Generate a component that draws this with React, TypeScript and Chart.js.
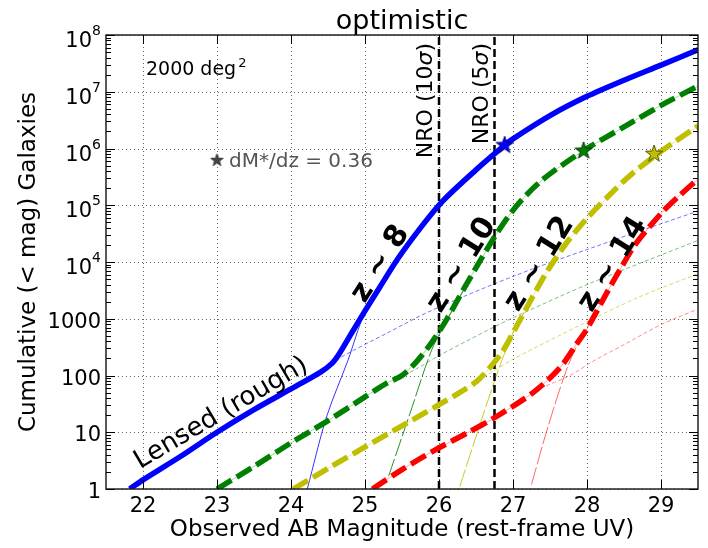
import React, { useEffect, useRef } from "react";
import { Chart, registerables } from "chart.js";
Chart.register(...registerables);

const FONT = "'DejaVu Sans', sans-serif";

// ---- axes ----
const xMin = 21.5;
const xMax = 29.5;
const yMin = 1;
const yMax = 1e8;
const xTickValues = [22, 23, 24, 25, 26, 27, 28, 29];
const xTickLabels = ["22", "23", "24", "25", "26", "27", "28", "29"];
const yTickValues = [1, 10, 100, 1000, 1e4, 1e5, 1e6, 1e7, 1e8];
const yTickBases = ["1", "10", "100", "1000", "10", "10", "10", "10", "10"];
const yTickExps = ["", "", "", "", "4", "5", "6", "7", "8"];

// ---- thick curves: total (lensed + unlensed) cumulative counts ----
const z8Mag = [21.82, 22, 22.5, 23, 23.5, 24, 24.4, 24.55, 24.65, 24.8, 25.0, 25.2, 25.45, 25.75, 26.04, 26.5, 26.88, 27.0, 27.5, 28.0, 28.5, 29.0, 29.5];
const z8Count = [1, 1.45, 3.7, 10, 25, 58, 115, 162, 240, 510, 1380, 3600, 11750, 40000, 115000, 420000, 1.12e6, 1.48e6, 3.8e6, 8.3e6, 1.6e7, 2.95e7, 5.5e7];

const z10Mag = [23.0, 23.5, 24, 24.5, 25, 25.3, 25.5, 25.7, 25.9, 26.1, 26.35, 26.75, 27.05, 27.4, 27.95, 28.5, 29.0, 29.5];
const z10Count = [1, 2.5, 6.5, 16, 42, 74, 100, 178, 380, 955, 3630, 27500, 98000, 282000, 912000, 2.4e6, 5.75e6, 1.26e7];

const z12Mag = [24.03, 24.5, 25, 25.5, 25.95, 26.3, 26.53, 26.84, 27.02, 27.25, 27.46, 27.72, 28.0, 28.35, 28.6, 28.93, 29.2, 29.5];
const z12Count = [1, 2.3, 5.5, 13, 28, 52, 83, 245, 630, 2240, 6800, 21400, 59000, 174000, 350000, 760000, 1.35e6, 2.5e6];

const z14Mag = [25.1, 25.5, 25.95, 26.4, 26.75, 27.28, 27.64, 27.86, 27.99, 28.26, 28.44, 28.66, 29.02, 29.25, 29.5];
const z14Count = [1, 2.2, 4.9, 10, 18, 51, 140, 360, 630, 2750, 7100, 21000, 76000, 148000, 290000];

// ---- thin short-dashed: lensed component ----
const z8LensMag = [24.4, 24.65, 25.3, 25.9, 27.05, 28.35, 29.5];
const z8LensCount = [112, 200, 560, 1400, 5900, 24000, 79000];
const z10LensMag = [25.45, 25.7, 26.0, 26.66, 27.02, 28.04, 29.5];
const z10LensCount = [89, 132, 224, 630, 1070, 4200, 24000];
const z12LensMag = [26.45, 26.7, 27.02, 27.9, 28.7, 29.5];
const z12LensCount = [71, 112, 200, 760, 2400, 6200];
const z14LensMag = [27.45, 27.77, 28.08, 28.5, 29.01, 29.5];
const z14LensCount = [66, 100, 178, 350, 800, 1480];

// ---- thin long-dashed: unlensed component ----
const z8UnMag = [24.22, 24.48, 24.77, 24.99, 25.2];
const z8UnCount = [1, 18.6, 186, 1230, 3500];
const z10UnMag = [25.32, 25.6, 25.9, 26.1, 26.35];
const z10UnCount = [1.7, 20, 280, 900, 3500];
const z12UnMag = [26.28, 26.53, 26.8, 27.0, 27.25];
const z12UnCount = [1.1, 11, 123, 560, 2200];
const z14UnMag = [27.25, 27.46, 27.72, 27.9, 28.1];
const z14UnCount = [1.2, 11, 123, 420, 1150];

// ---- M* stars ----
const starMag = [26.887, 27.954, 28.907];
const starCount = [1.14e6, 9.1e5, 8.0e5];
const legendStarMag = [23.0];
const legendStarCount = [6.2e5];

// ---- NRO limits ----
const nroMag = [26.0, 26.75];
const nroLabels = ["NRO (10σ)", "NRO (5σ)"];

// ---- annotations ----
const zLabels = ["z ~ 8", "z ~ 10", "z ~ 12", "z ~ 14"];
const zLabelMag = [25.21, 26.31, 27.36, 28.35];
const zLabelCount = [9200, 8800, 9200, 9000];
const titleText = "optimistic";
const xTitle = "Observed AB Magnitude (rest-frame UV)";
const yTitle = "Cumulative (< mag) Galaxies";
const areaText = "2000 deg";
const areaSup = "2";
const areaMag = 22.04;
const areaCount = 1.97e7;
const dmText = "dM*/dz = 0.36";
const lensedText = "Lensed (rough)";
const lensedMag = 21.96;
const lensedCount = 2.25;

const BLUE = "#0000ff";
const GREEN = "#008000";
const YELLOW = "#bfbf00";
const RED = "#ff0000";

function pts(m: number[], c: number[]) {
  return m.map((x, i) => ({ x, y: c[i] }));
}

function starCanvas(fill: string, stroke: string, r: number) {
  const size = Math.ceil(r * 2 + 4);
  const c = document.createElement("canvas");
  c.width = size;
  c.height = size;
  const ctx = c.getContext("2d")!;
  ctx.translate(size / 2, size / 2);
  ctx.beginPath();
  for (let i = 0; i < 10; i++) {
    const rad = i % 2 === 0 ? r : r * 0.4;
    const a = -Math.PI / 2 + (i * Math.PI) / 5;
    ctx.lineTo(rad * Math.cos(a), rad * Math.sin(a));
  }
  ctx.closePath();
  ctx.fillStyle = fill;
  ctx.fill();
  ctx.strokeStyle = stroke;
  ctx.lineWidth = 1;
  ctx.stroke();
  return c;
}

function line(ctx: CanvasRenderingContext2D, x1: number, y1: number, x2: number, y2: number) {
  ctx.beginPath();
  ctx.moveTo(x1, y1);
  ctx.lineTo(x2, y2);
  ctx.stroke();
}

function txt(
  ctx: CanvasRenderingContext2D,
  s: string,
  x: number,
  y: number,
  font: string,
  color: string,
  align: CanvasTextAlign = "left",
  base: CanvasTextBaseline = "alphabetic",
  rot = 0
) {
  ctx.save();
  ctx.translate(x, y);
  if (rot) ctx.rotate((rot * Math.PI) / 180);
  ctx.font = font;
  ctx.fillStyle = color;
  ctx.textAlign = align;
  ctx.textBaseline = base;
  ctx.fillText(s, 0, 0);
  ctx.restore();
}

const decor = {
  id: "decor",
  beforeDatasetsDraw(chart: any) {
    const { ctx, chartArea: a, scales } = chart;
    const xs = scales.x;
    const ys = scales.y;
    ctx.save();
    ctx.strokeStyle = "rgba(0,0,0,0.6)";
    ctx.lineWidth = 1;
    ctx.setLineDash([1, 3]);
    for (const v of xTickValues) {
      const px = Math.round(xs.getPixelForValue(v)) + 0.5;
      line(ctx, px, a.top, px, a.bottom);
    }
    for (const v of yTickValues) {
      const py = Math.round(ys.getPixelForValue(v)) + 0.5;
      line(ctx, a.left, py, a.right, py);
    }
    ctx.restore();
  },
  afterDatasetsDraw(chart: any) {
    const { ctx, chartArea: a, scales } = chart;
    const xs = scales.x;
    const ys = scales.y;
    ctx.save();
    // frame
    ctx.strokeStyle = "#222";
    ctx.lineWidth = 1.5;
    ctx.strokeRect(a.left, a.top, a.right - a.left, a.bottom - a.top);
    // ticks
    ctx.lineWidth = 1;
    ctx.strokeStyle = "#000";
    for (const v of xTickValues) {
      const px = Math.round(xs.getPixelForValue(v)) + 0.5;
      line(ctx, px, a.bottom, px, a.bottom - 9);
      line(ctx, px, a.top, px, a.top + 9);
    }
    for (const v of yTickValues) {
      const py = Math.round(ys.getPixelForValue(v)) + 0.5;
      line(ctx, a.left, py, a.left + 9, py);
      line(ctx, a.right, py, a.right - 9, py);
    }
    for (let d = 1; d < yMax; d *= 10) {
      for (let m = 2; m <= 9; m++) {
        const py = Math.round(ys.getPixelForValue(d * m)) + 0.5;
        line(ctx, a.left, py, a.left + 5, py);
        line(ctx, a.right, py, a.right - 5, py);
      }
    }
    // tick labels
    const tickFont = `21px ${FONT}`;
    const expFont = `14px ${FONT}`;
    xTickValues.forEach((v, i) => {
      txt(ctx, xTickLabels[i], xs.getPixelForValue(v), a.bottom + 23, tickFont, "#000", "center");
    });
    yTickValues.forEach((v, i) => {
      const py = ys.getPixelForValue(v);
      const right = a.left - 5;
      if (yTickExps[i]) {
        ctx.font = expFont;
        const we = ctx.measureText(yTickExps[i]).width;
        txt(ctx, yTickExps[i], right, py + 0, expFont, "#000", "right");
        txt(ctx, yTickBases[i], right - we, py + 12, tickFont, "#000", "right");
      } else {
        txt(ctx, yTickBases[i], right, py + 9, tickFont, "#000", "right");
      }
    });
    // titles
    const cx = (a.left + a.right) / 2;
    txt(ctx, titleText, cx, 29, `27px ${FONT}`, "#000", "center");
    txt(ctx, xTitle, cx, 536, `23px ${FONT}`, "#000", "center");
    txt(ctx, yTitle, 35, (a.top + a.bottom) / 2, `23px ${FONT}`, "#000", "center", "alphabetic", -90);

    // NRO labels (italic sigma)
    nroMag.forEach((m, i) => {
      const bx = xs.getPixelForValue(m) - 7;
      const parts = nroLabels[i].split("σ");
      const segs: [string, string][] = [
        [parts[0], `22px ${FONT}`],
        ["σ", `italic 22px ${FONT}`],
        [parts[1], `22px ${FONT}`],
      ];
      ctx.save();
      ctx.translate(bx, a.top + 8);
      ctx.rotate(-Math.PI / 2);
      let w = 0;
      segs.forEach(([s, f]) => {
        ctx.font = f;
        w += ctx.measureText(s).width;
      });
      let px = -w;
      ctx.fillStyle = "#000";
      ctx.textAlign = "left";
      ctx.textBaseline = "alphabetic";
      segs.forEach(([s, f]) => {
        ctx.font = f;
        ctx.fillText(s, px, 0);
        px += ctx.measureText(s).width;
      });
      ctx.restore();
    });

    // z labels
    zLabels.forEach((s, i) => {
      txt(ctx, s, xs.getPixelForValue(zLabelMag[i]), ys.getPixelForValue(zLabelCount[i]), `bold 30px ${FONT}`, "#000", "center", "middle", -58);
    });

    // lensed
    txt(ctx, lensedText, xs.getPixelForValue(lensedMag), ys.getPixelForValue(lensedCount), `26px ${FONT}`, "#000", "left", "alphabetic", -30.5);

    // area
    const ax = xs.getPixelForValue(areaMag);
    const ay = ys.getPixelForValue(areaCount);
    ctx.font = `19px ${FONT}`;
    const aw = ctx.measureText(areaText).width;
    txt(ctx, areaText, ax, ay, `19px ${FONT}`, "#000");
    txt(ctx, areaSup, ax + aw + 2, ay - 8, `13px ${FONT}`, "#000");

    // dM*/dz text
    const sx = xs.getPixelForValue(legendStarMag[0]);
    const sy = ys.getPixelForValue(legendStarCount[0]);
    txt(ctx, dmText, sx + 12, sy + 7, `20px ${FONT}`, "#555555");
    ctx.restore();
  },
};

export default function App() {
  const ref = useRef<HTMLCanvasElement>(null);
  useEffect(() => {
    const canvas = ref.current!;
    const thick = (m: number[], c: number[], color: string, dash: number[]) => ({
      data: pts(m, c),
      borderColor: color,
      borderWidth: 5.5,
      borderDash: dash,
      pointRadius: 0,
      tension: 0.3,
      clip: 0,
    });
    const thin = (m: number[], c: number[], color: string, dash: number[], w = 1) => ({
      data: pts(m, c),
      borderColor: color,
      borderWidth: w,
      borderDash: dash,
      pointRadius: 0,
      tension: 0.3,
      clip: 0,
    });
    const star = (i: number, fill: string, edge: string) => ({
      data: [{ x: starMag[i], y: starCount[i] }],
      showLine: false,
      pointStyle: starCanvas(fill, edge, 9),
      pointRadius: 9,
      clip: false,
    });
    const chart = new Chart(canvas, {
      type: "line",
      data: {
        datasets: [
          {
            data: pts(legendStarMag, legendStarCount),
            showLine: false,
            pointStyle: starCanvas("#444444", "#333333", 6.5),
            pointRadius: 7,
            clip: false,
          },
          star(0, BLUE, "#000066"),
          star(1, GREEN, "#003300"),
          star(2, YELLOW, "#555500"),
          thick(z8Mag, z8Count, BLUE, []),
          thick(z10Mag, z10Count, GREEN, [17, 6]),
          thick(z12Mag, z12Count, YELLOW, [17, 6]),
          thick(z14Mag, z14Count, RED, [17, 6]),
          thin(z10Mag, z10Count, "rgba(0,128,0,0.35)", []),
          thin(z12Mag, z12Count, "rgba(191,191,0,0.35)", []),
          thin(z14Mag, z14Count, "rgba(255,0,0,0.35)", []),
          ...nroMag.map((m) => ({
            data: [
              { x: m, y: yMin },
              { x: m, y: yMax },
            ],
            borderColor: "#000",
            borderWidth: 2.5,
            borderDash: [8, 4],
            pointRadius: 0,
            clip: 0,
          })),
          thin(z8LensMag, z8LensCount, "rgba(0,0,255,0.55)", [4, 2.5]),
          thin(z10LensMag, z10LensCount, "rgba(0,128,0,0.5)", [4, 2.5]),
          thin(z12LensMag, z12LensCount, "rgba(191,191,0,0.6)", [4, 2.5]),
          thin(z14LensMag, z14LensCount, "rgba(255,0,0,0.45)", [4, 2.5]),
          thin(z8UnMag, z8UnCount, "rgba(0,0,255,0.8)", []),
          thin(z10UnMag, z10UnCount, "rgba(0,128,0,0.85)", [18, 3]),
          thin(z12UnMag, z12UnCount, "rgba(191,191,0,0.85)", [18, 3]),
          thin(z14UnMag, z14UnCount, "rgba(255,0,0,0.6)", [18, 3]),
        ] as any,
      },
      options: {
        responsive: false,
        animation: false,
        devicePixelRatio: 1,
        layout: { padding: { top: 35, right: 0, left: 0, bottom: 0 } },
        plugins: { legend: { display: false }, tooltip: { enabled: false } },
        events: [],
        scales: {
          x: {
            type: "linear",
            min: xMin,
            max: xMax,
            grid: { display: false },
            border: { display: false },
            ticks: { display: false },
            afterFit: (s: any) => {
              s.height = 59;
            },
          },
          y: {
            type: "logarithmic",
            min: yMin,
            max: yMax,
            grid: { display: false },
            border: { display: false },
            ticks: { display: false },
            afterFit: (s: any) => {
              s.width = 106;
            },
          },
        },
      } as any,
      plugins: [decor],
    });
    return () => chart.destroy();
  }, []);
  return (
    <div style={{ position: "fixed", left: 0, top: 0, width: 708, height: 548, background: "#fff" }}>
      <canvas ref={ref} width={708} height={548} style={{ display: "block", width: 708, height: 548 }} />
    </div>
  );
}
